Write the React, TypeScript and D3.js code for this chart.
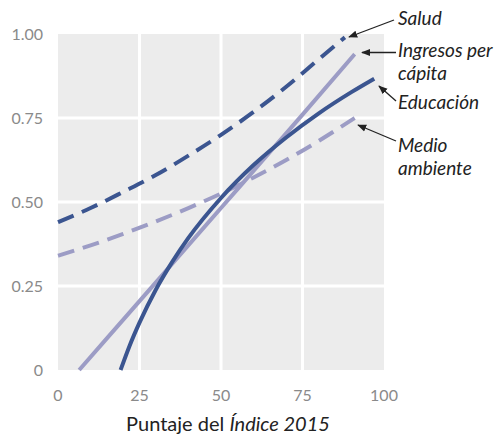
import React from "react";
import * as d3 from "d3";

const xTicks = [0, 25, 50, 75, 100];
const yTicks = [0, 0.25, 0.5, 0.75, 1.0];
const yTickLabels = ["0", "0.25", "0.50", "0.75", "1.00"];

const saludX = [0, 10, 20, 30, 40, 50, 60, 70, 80, 88];
const saludY = [0.44, 0.482, 0.53, 0.58, 0.638, 0.7, 0.768, 0.843, 0.925, 0.99];

const medioX = [0, 10, 20, 30, 40, 50, 60, 70, 80, 91];
const medioY = [0.34, 0.371, 0.405, 0.442, 0.482, 0.525, 0.573, 0.625, 0.682, 0.75];

const ingresosX = [6.5, 25, 50, 75, 91];
const ingresosY = [0, 0.205, 0.482, 0.76, 0.94];

const educX = [19.2, 22, 25, 30, 35, 40, 50, 60, 70, 80, 90, 97];
const educY = [0, 0.073, 0.141, 0.239, 0.321, 0.393, 0.512, 0.61, 0.692, 0.764, 0.827, 0.867];

const DARK = "#3b5590";
const LIGHT = "#9c9cc5";

const W = 498;
const H = 435;
const M = { left: 58, right: 114, top: 34, bottom: 65 };

export default function App() {
  const x = d3.scaleLinear().domain([0, 100]).range([M.left, W - M.right]);
  const y = d3.scaleLinear().domain([0, 1]).range([H - M.bottom, M.top]);
  const line = d3
    .line<[number, number]>()
    .x((d) => x(d[0]))
    .y((d) => y(d[1]))
    .curve(d3.curveMonotoneX);
  const zip = (a: number[], b: number[]) => a.map((v, i) => [v, b[i]] as [number, number]);

  const series = [
    { xs: medioX, ys: medioY, color: LIGHT, dash: "17 9" },
    { xs: ingresosX, ys: ingresosY, color: LIGHT, dash: undefined },
    { xs: educX, ys: educY, color: DARK, dash: undefined },
    { xs: saludX, ys: saludY, color: DARK, dash: "17 9" },
  ];

  const labels = [
    { lines: ["Salud"], tx: 398, ty: 25, from: [394, 20], to: [349, 37] },
    { lines: ["Ingresos per", "cápita"], tx: 398, ty: 57, from: [396, 52.5], to: [362, 52.5] },
    { lines: ["Educación"], tx: 398, ty: 109, from: [396, 101], to: [379, 86] },
    { lines: ["Medio", "ambiente"], tx: 398, ty: 152, from: [396, 141], to: [358, 125] },
  ];

  const font = "Lato, 'Open Sans', sans-serif";

  return (
    <svg width={W} height={H} style={{ position: "absolute", left: 0, top: 0 }} fontFamily={font}>
      <defs>
        <marker id="ah" viewBox="0 0 10 10" refX="9" refY="5" markerWidth="7" markerHeight="7" orient="auto">
          <path d="M0,1 L10,5 L0,9 z" fill="#222" />
        </marker>
      </defs>
      <rect x={x(0)} y={y(1)} width={x(100) - x(0)} height={y(0) - y(1)} fill="#ececec" />
      {xTicks.slice(1, -1).map((t) => (
        <line key={"gx" + t} x1={x(t)} x2={x(t)} y1={y(1)} y2={y(0)} stroke="#fff" strokeWidth={3} />
      ))}
      {yTicks.slice(1, -1).map((t) => (
        <line key={"gy" + t} x1={x(0)} x2={x(100)} y1={y(t)} y2={y(t)} stroke="#fff" strokeWidth={3} />
      ))}
      {yTicks.map((t, i) => (
        <text key={"yt" + t} x={43} y={y(t)} dy="0.35em" textAnchor="end" fontSize={16} fill="#8a8a8a">
          {yTickLabels[i]}
        </text>
      ))}
      {xTicks.map((t) => (
        <text key={"xt" + t} x={x(t)} y={401} textAnchor="middle" fontSize={16} fill="#8a8a8a">
          {t}
        </text>
      ))}
      <text x={228} y={431} textAnchor="middle" fontSize={20} fill="#222">
        Puntaje del <tspan fontStyle="italic">Índice 2015</tspan>
      </text>
      {series.map((s, i) => (
        <path
          key={i}
          d={line(zip(s.xs, s.ys)) || ""}
          fill="none"
          stroke={s.color}
          strokeWidth={4}
          strokeDasharray={s.dash}
        />
      ))}
      {labels.map((l, i) => (
        <g key={"l" + i}>
          <line x1={l.from[0]} y1={l.from[1]} x2={l.to[0]} y2={l.to[1]} stroke="#222" strokeWidth={1.3} markerEnd="url(#ah)" />
          {l.lines.map((t, j) => (
            <text key={j} x={l.tx} y={l.ty + j * 23} fontSize={19} fontStyle="italic" fill="#222">
              {t}
            </text>
          ))}
        </g>
      ))}
    </svg>
  );
}
